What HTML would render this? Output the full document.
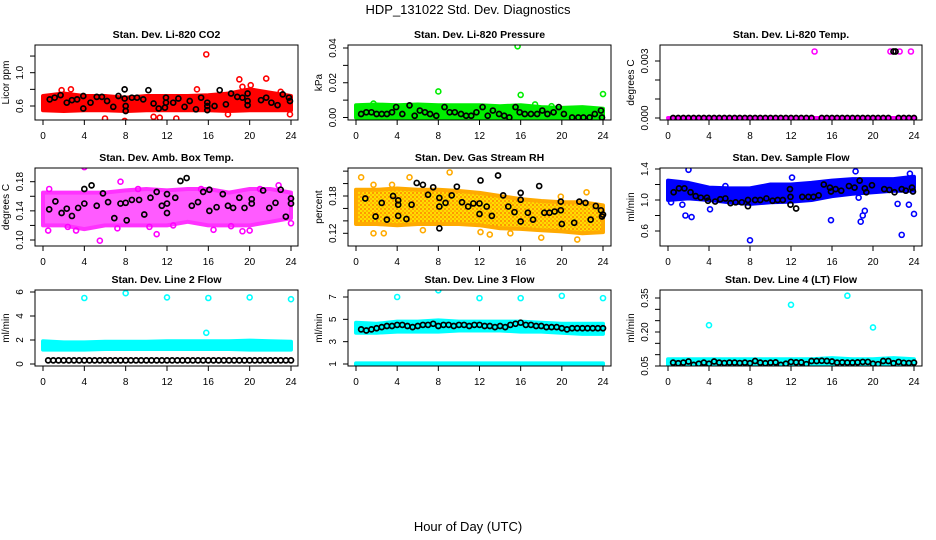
<!DOCTYPE html>
<html><head><meta charset="utf-8"><style>
html,body{margin:0;padding:0;background:#fff;}
svg{display:block;font-family:"Liberation Sans",Arial,sans-serif;}
</style></head><body>
<svg id="chart" width="936" height="540" viewBox="0 0 936 540" xmlns="http://www.w3.org/2000/svg">
<defs>
<pattern id="rhPat" width="4" height="4" patternUnits="userSpaceOnUse">
<rect width="4" height="4" fill="#ffdd00"/>
<circle cx="1" cy="1" r="0.9" fill="#ff6a00"/>
<circle cx="3" cy="3" r="0.9" fill="#ff9a00"/>
</pattern>
</defs>
<text x="468" y="14" text-anchor="middle" font-size="13">HDP_131022  Std. Dev. Diagnostics</text>
<text x="468" y="531" text-anchor="middle" font-size="13">Hour of Day (UTC)</text>
</svg>
<script>
// ---------- shared data ----------
const xTicks = [0,4,8,12,16,20,24];
const bandHours = [0,2,4,6,8,10,12,14,16,18,20,22,24];
const halfHours = [0.5,1,1.5,2,2.5,3,3.5,4,4.5,5,5.5,6,6.5,7,7.5,8,8.5,9,9.5,10,10.5,11,11.5,12,12.5,13,13.5,14,14.5,15,15.5,16,16.5,17,17.5,18,18.5,19,19.5,20,20.5,21,21.5,22,22.5,23,23.5,24];

// P1 CO2
const co2BandLo = [0.55,0.54,0.55,0.55,0.54,0.55,0.55,0.55,0.55,0.54,0.55,0.55,0.55];
const co2BandHi = [0.72,0.75,0.72,0.72,0.70,0.72,0.72,0.72,0.73,0.75,0.80,0.76,0.72];
const co2OutH = [15.8,19,21.6,1.8,2.7,7.9,6,12.9,11.3,19.3,20.1,23.9,14.9,23,10.7,17.9];
const co2OutV = [1.22,0.92,0.93,0.79,0.80,0.42,0.45,0.45,0.46,0.83,0.85,0.50,0.80,0.77,0.47,0.50];
const co2BlkH = [0.65,1.13,1.7,2.3,2.8,3.3,3.9,3.9,4.6,5.2,5.7,6.2,6.8,7.3,7.9,7.9,8,8,8.6,9.1,9.7,10.2,10.7,11.2,11.8,11.9,11.9,12.6,13.1,13.7,14.2,14.8,15.3,15.9,15.9,15.9,16.6,17.1,17.7,18.2,18.8,19.3,19.8,19.8,19.8,21.1,21.6,22.1,22.7,23.2,23.8,23.9];
const co2BlkV = [0.68,0.70,0.73,0.64,0.67,0.68,0.72,0.57,0.64,0.71,0.71,0.66,0.59,0.72,0.80,0.69,0.54,0.60,0.70,0.70,0.68,0.79,0.63,0.57,0.58,0.70,0.64,0.64,0.69,0.59,0.66,0.56,0.70,0.64,0.55,0.60,0.60,0.79,0.62,0.75,0.71,0.70,0.75,0.66,0.61,0.67,0.70,0.64,0.61,0.74,0.70,0.66];

// P2 Pressure
const presBandLo = [0,0,0,0,0,0,0,0,0,0,0,0,0];
const presBandHi = [0.007,0.0075,0.007,0.0075,0.007,0.007,0.007,0.0065,0.007,0.006,0.0055,0.006,0.005];
const presOutH = [15.7,8,16,24,17.4,19,1.7];
const presOutV = [0.041,0.015,0.013,0.0135,0.0075,0.0065,0.008];
const presBlkH = [0.5,1,1.5,2,2.5,3,3.5,3.9,4.5,5.2,5.7,6.2,6.7,7.2,7.8,8.6,9.1,9.6,10.2,10.7,11.2,11.7,12.3,12.8,13.3,13.9,14.4,14.9,15.5,15.9,16.4,17,17.6,18.1,18.6,19.2,19.7,20.2,21,21.6,22.1,22.7,23.2,23.8,23.9];
const presBlkV = [0.002,0.003,0.003,0.002,0.002,0.002,0.003,0.006,0.002,0.007,0.001,0.004,0.003,0.002,0.001,0.006,0.003,0.003,0.002,0.001,0.001,0.003,0.006,0.001,0.004,0.002,0.001,0.000,0.006,0.003,0.002,0.002,0.002,0.004,0.002,0.003,0.006,0.002,0.000,0.000,0.000,0.000,0.002,0.004,0.000];

// P3 Li-820 Temp
const ltBandLo = [0,0,0,0,0,0,0,0,0,0,0,0,0];
const ltBandHi = [0,0,0,0,0,0,0,0,0,0,0,0,0];
const ltOutH = [14.3,21.3,21.7,22.6,23.7];
const ltOutV = [0.0035,0.0041,0.0035,0.0035,0.0035];
const ltBlkV = [0,0,0,0,0,0,0,0,0,0,0,0,0,0,0,0,0,0,0,0,0,0,0,0,0,0,0,0,0.0041,0,0,0,0,0,0,0,0,0,0,0,0,0,0,0.0035,0,0,0,0];

// P4 Amb box temp
const abBandLo = [0.12,0.12,0.115,0.12,0.12,0.12,0.12,0.125,0.12,0.12,0.12,0.125,0.13];
const abBandHi = [0.165,0.165,0.165,0.165,0.168,0.17,0.168,0.17,0.17,0.165,0.17,0.17,0.165];
const abOutH = [0.5,0.6,4,5.5,7.5,9.2,11,15.3,16.5,19.3,20,21,24,3.2,7.2,12.6,2.4,10.3,18.2,22.8];
const abOutV = [0.113,0.17,0.2,0.099,0.18,0.17,0.108,0.17,0.114,0.112,0.113,0.17,0.123,0.113,0.116,0.12,0.118,0.118,0.119,0.175];
const abBlkH = [0.6,1.2,1.8,2.3,2.8,3.4,4,4,4.7,5.2,5.8,6.3,6.9,7.5,8,8.1,8.6,9.3,9.8,10.4,11,11.5,12,12,12,12.8,13.3,13.9,14.4,15,15.5,16.1,16.1,16.8,17.4,17.9,18.4,19,19.5,20.2,20.2,21.3,21.9,22.5,23,23.5,24,24];
const abBlkV = [0.142,0.153,0.137,0.143,0.133,0.144,0.17,0.15,0.175,0.147,0.164,0.152,0.13,0.15,0.151,0.127,0.155,0.155,0.135,0.158,0.166,0.147,0.137,0.15,0.163,0.158,0.181,0.185,0.147,0.152,0.166,0.169,0.14,0.145,0.163,0.147,0.144,0.158,0.144,0.15,0.156,0.168,0.144,0.151,0.169,0.132,0.157,0.15];

// P5 Gas stream RH
const rhBandLo = [0.135,0.135,0.133,0.135,0.135,0.135,0.133,0.128,0.127,0.125,0.123,0.12,0.122];
const rhBandHi = [0.19,0.19,0.192,0.19,0.19,0.188,0.185,0.18,0.175,0.172,0.17,0.17,0.165];
const rhOutH = [0.5,1.7,5.2,9.1,0.3,2.7,1.7,12.1,13,15,18,21.5,19.9,22.4,6.5,3.5];
const rhOutV = [0.21,0.198,0.21,0.218,0.186,0.12,0.12,0.122,0.118,0.12,0.113,0.11,0.179,0.186,0.125,0.198];
const rhBlkH = [0.9,1.9,2.5,3,3.6,4.1,4.1,4.1,4.9,5.4,5.9,6.5,7,7.5,8.1,8.1,8.1,8.7,9.3,9.8,10.3,10.9,11.4,12.1,12,12,12.7,13.2,13.8,14.3,14.8,15.4,16,16,16,16.7,17.2,17.8,18.3,18.8,19.3,19.9,19.9,20,21.2,21.7,22.3,22.8,23.3,23.8,23.9,24];
const rhBlkV = [0.176,0.147,0.169,0.142,0.18,0.166,0.173,0.148,0.143,0.166,0.201,0.198,0.182,0.194,0.177,0.163,0.128,0.169,0.181,0.195,0.17,0.163,0.168,0.205,0.168,0.151,0.163,0.148,0.213,0.181,0.163,0.154,0.185,0.174,0.139,0.153,0.142,0.196,0.153,0.153,0.155,0.157,0.171,0.135,0.137,0.171,0.169,0.142,0.164,0.157,0.147,0.15];

// P6 Sample flow
const sfBandLo = [1.0,1.02,1.0,0.97,0.95,0.97,0.98,1.0,1.05,1.08,1.1,1.12,1.12];
const sfBandHi = [1.25,1.22,1.16,1.15,1.15,1.2,1.2,1.22,1.25,1.27,1.27,1.27,1.3];
const sfOutH = [2,8,22.8,0.3,1.4,1.7,2.3,4.1,15.9,18.8,19,19.2,22.4,23.5,24,18.3,23.6,18.6,5.6,12.1];
const sfOutV = [1.39,0.48,0.55,0.97,0.94,0.8,0.78,0.88,0.74,0.72,0.8,0.86,0.95,0.94,0.82,1.37,1.34,1.03,1.18,1.29];
const sfBlkH = [0.55,1.07,1.6,2.2,2.7,3.2,3.8,3.9,4.6,5.1,5.6,6.1,6.6,7.2,7.8,7.8,8.5,9,9.6,10.2,10.7,11.2,11.9,11.95,11.95,12.5,13.1,13.7,14.2,14.7,15.2,15.8,15.9,16.35,16.9,17.65,18.2,18.7,19.2,19.35,19.9,21.1,21.6,22.1,22.8,23.2,23.8,23.9];
const sfBlkV = [1.10,1.15,1.15,1.10,1.05,1.03,1.03,0.99,0.98,1.01,1.02,0.96,0.97,0.97,0.92,1.0,1.0,1.0,1.02,0.99,1.0,1.0,1.14,0.94,1.04,0.89,1.04,1.04,1.04,1.06,1.2,1.16,1.11,1.14,1.12,1.18,1.16,1.25,1.15,1.1,1.19,1.14,1.13,1.1,1.14,1.12,1.16,1.11];

// P7 Line 2 flow
const l2BandLo = [1.2,1.2,1.2,1.25,1.25,1.25,1.25,1.25,1.25,1.25,1.2,1.2,1.2];
const l2BandHi = [1.9,1.8,1.8,1.85,1.85,1.85,1.9,1.9,1.9,1.9,1.95,1.9,1.85];
const l2OutH = [4,8,12,16,20,24,15.8];
const l2OutV = [5.5,5.9,5.55,5.5,5.55,5.4,2.6];
const l2BlkV = [0.3,0.3,0.3,0.3,0.3,0.3,0.3,0.3,0.3,0.3,0.3,0.3,0.3,0.3,0.3,0.3,0.3,0.3,0.3,0.3,0.3,0.3,0.3,0.3,0.3,0.3,0.3,0.3,0.3,0.3,0.3,0.3,0.3,0.3,0.3,0.3,0.3,0.3,0.3,0.3,0.3,0.3,0.3,0.3,0.3,0.3,0.3,0.3];

// P8 Line 3 flow
const l3BandLo = [3.8,3.8,3.9,3.9,3.9,4.0,4.0,4.0,3.9,3.9,3.8,3.7,3.7];
const l3BandHi = [4.7,4.6,4.8,4.8,4.9,4.8,4.8,4.8,4.8,4.7,4.6,4.6,4.6];
const l3LowLo = [0.9,0.9,0.9,0.9,0.9,0.9,0.9,0.9,0.9,0.9,0.9,0.9,0.9];
const l3LowHi = [1.05,1.05,1.05,1.05,1.05,1.05,1.05,1.05,1.05,1.05,1.05,1.05,1.05];
const l3OutH = [4,8,12,16,20,24];
const l3OutV = [7.0,7.6,6.9,6.9,7.1,6.9];
const l3BlkV = [4.1,4.0,4.1,4.2,4.3,4.4,4.4,4.5,4.5,4.4,4.3,4.4,4.5,4.5,4.6,4.4,4.5,4.5,4.4,4.5,4.5,4.4,4.5,4.5,4.4,4.4,4.3,4.4,4.3,4.5,4.6,4.7,4.5,4.5,4.4,4.4,4.3,4.3,4.3,4.2,4.1,4.2,4.2,4.2,4.2,4.2,4.2,4.2];

// P9 Line 4 flow
const l4BandLo = [0.05,0.05,0.05,0.05,0.05,0.05,0.05,0.05,0.05,0.05,0.05,0.05,0.05];
const l4BandHi = [0.08,0.08,0.08,0.08,0.08,0.08,0.08,0.08,0.085,0.08,0.08,0.085,0.08];
const l4OutH = [4,12,17.5,20];
const l4OutV = [0.23,0.32,0.36,0.22];
const l4BlkV = [0.065,0.062,0.065,0.07,0.055,0.06,0.065,0.06,0.07,0.065,0.063,0.065,0.065,0.063,0.065,0.062,0.072,0.065,0.062,0.065,0.066,0.055,0.06,0.068,0.066,0.066,0.058,0.072,0.072,0.073,0.072,0.07,0.065,0.066,0.065,0.065,0.066,0.068,0.068,0.06,0.058,0.072,0.072,0.062,0.068,0.064,0.063,0.065];

// ---------- rendering ----------
const NS = "http://www.w3.org/2000/svg";
const svg = document.getElementById('chart');
function mk(tag, attrs, parent){
  const e = document.createElementNS(NS, tag);
  for (const k in attrs) e.setAttribute(k, attrs[k]);
  (parent||svg).appendChild(e);
  return e;
}

function panel(cfg){
  const g = mk('g', {});
  
  
  const [bl, bt, br, bb] = cfg.box;
  const xs = h => cfg.x0 + (cfg.x24 - cfg.x0) * h / 24;
  const ys = v => cfg.ya[1] + (v - cfg.ya[0]) * (cfg.yb[1] - cfg.ya[1]) / (cfg.yb[0] - cfg.ya[0]);
  const clip = 'clip-' + cfg.name;
  const cp = mk('clipPath', {id: clip}, g);
  mk('rect', {x: bl, y: bt, width: br - bl, height: bb - bt}, cp);
  const plot = mk('g', {'clip-path': 'url(#' + clip + ')'}, g);

  cfg.bands.forEach(b => {
    let d = '';
    bandHours.forEach((h, i) => { d += (i ? 'L' : 'M') + xs(h).toFixed(1) + ',' + ys(b.hi[i]).toFixed(1); });
    for (let i = bandHours.length - 1; i >= 0; i--) d += 'L' + xs(bandHours[i]).toFixed(1) + ',' + ys(b.lo[i]).toFixed(1);
    d += 'Z';
    const p = mk('path', {d: d, fill: cfg.fill, stroke: cfg.color, 'stroke-width': 4, 'stroke-linejoin': 'round', opacity: cfg.op || 1}, plot);
    
    
  });
  cfg.outH.forEach((h, i) => {
    const c = mk('circle', {cx: xs(h), cy: ys(cfg.outV[i]), r: 2.5, fill: 'none', stroke: cfg.color, 'stroke-width': 1.6}, plot);
    
    
  });
  cfg.blkH.forEach((h, i) => {
    const c = mk('circle', {cx: xs(h), cy: ys(cfg.blkV[i]), r: 2.5, fill: 'none', stroke: '#000', 'stroke-width': 1.7}, plot);
    
    
  });
  (cfg.extra || []).forEach(pt => {
    const c = mk('circle', {cx: xs(pt[0]), cy: ys(pt[1]), r: 2.5, fill: 'none', stroke: '#000', 'stroke-width': 1.7}, plot);
    
    
  });

  const box = mk('rect', {x: bl, y: bt, width: br - bl, height: bb - bt, fill: 'none', stroke: '#000', 'stroke-width': 1}, g);
  
  

  const xa = mk('g', {}, g);
  
  
  xTicks.forEach(t => {
    mk('line', {x1: xs(t), x2: xs(t), y1: bb, y2: bb + 5, stroke: '#000'}, xa);
    const tx = mk('text', {x: xs(t), y: bb + 19, 'text-anchor': 'middle', 'font-size': 10}, xa);
    tx.textContent = t;
    
    
  });
  const ya = mk('g', {}, g);
  
  
  cfg.yTicks.forEach((t, i) => {
    const y = ys(t);
    mk('line', {x1: bl - 5, x2: bl, y1: y, y2: y, stroke: '#000'}, ya);
    if (cfg.yLabels[i]) {
      const lx = bl - 12;
      const tx = mk('text', {x: lx, y: y, 'text-anchor': 'middle', 'font-size': 10, transform: 'rotate(-90 ' + lx + ' ' + y + ')'}, ya);
      tx.textContent = cfg.yLabels[i];
      
      
    }
  });
  const cy = (bt + bb) / 2, lx = bl - 26;
  const yt = mk('text', {x: lx, y: cy, 'text-anchor': 'middle', 'font-size': 10, transform: 'rotate(-90 ' + lx + ' ' + cy + ')'}, g);
  yt.textContent = cfg.ylab;
  
  
  const tt = mk('text', {x: (bl + br) / 2, y: bt - 7, 'text-anchor': 'middle', 'font-size': 10.5, 'font-weight': 'bold'}, g);
  tt.textContent = cfg.title;
  
  
}

const C1 = [35, 298, 43, 291], C2 = [348, 611, 356, 603], C3 = [660, 922, 668, 914];
const R1 = [45, 120], R2 = [168, 246], R3 = [290, 366];

panel({name:'panel-co2', title:'Stan. Dev. Li-820 CO2', ylab:'Licor ppm', box:[C1[0],R1[0],C1[1],R1[1]], x0:C1[2], x24:C1[3],
  ya:[0.6,106], yb:[1.0,72.7], yTicks:[0.6,0.8,1.0,1.2], yLabels:['0.6','','1.0',''], color:'#ff0000', fill:'#ff0000',
  bands:[{lo:co2BandLo, hi:co2BandHi}], outH:co2OutH, outV:co2OutV, blkH:co2BlkH, blkV:co2BlkV});
panel({name:'panel-pressure', title:'Stan. Dev. Li-820 Pressure', ylab:'kPa', box:[C2[0],R1[0],C2[1],R1[1]], x0:C2[2], x24:C2[3],
  ya:[0,117.5], yb:[0.04,48], yTicks:[0,0.01,0.02,0.03,0.04], yLabels:['0.00','','0.02','','0.04'], color:'#00ee00', fill:'#00ee00',
  bands:[{lo:presBandLo, hi:presBandHi}], outH:presOutH, outV:presOutV, blkH:presBlkH, blkV:presBlkV});
panel({name:'panel-li820-temp', title:'Stan. Dev. Li-820 Temp.', ylab:'degrees C', box:[C3[0],R1[0],C3[1],R1[1]], x0:C3[2], x24:C3[3],
  ya:[0,118], yb:[0.003,61], yTicks:[0,0.001,0.002,0.003], yLabels:['0.000','','','0.003'], color:'#ff00ff', fill:'#ff00ff',
  bands:[{lo:ltBandLo, hi:ltBandHi}], outH:ltOutH, outV:ltOutV, blkH:halfHours, blkV:ltBlkV, extra:[[22.2,0.0035]]});
panel({name:'panel-amb-box-temp', title:'Stan. Dev. Amb. Box Temp.', ylab:'degrees C', box:[C1[0],R2[0],C1[1],R2[1]], x0:C1[2], x24:C1[3],
  ya:[0.10,240], yb:[0.18,181.7], yTicks:[0.10,0.12,0.14,0.16,0.18], yLabels:['0.10','','0.14','','0.18'], color:'#ff00ff', fill:'#ff33ff', op:0.8,
  bands:[{lo:abBandLo, hi:abBandHi}], outH:abOutH, outV:abOutV, blkH:abBlkH, blkV:abBlkV});
panel({name:'panel-gas-rh', title:'Stan. Dev. Gas Stream RH', ylab:'percent', box:[C2[0],R2[0],C2[1],R2[1]], x0:C2[2], x24:C2[3],
  ya:[0.12,233.3], yb:[0.18,196], yTicks:[0.12,0.14,0.16,0.18,0.20,0.22], yLabels:['0.12','','','0.18','',''], color:'#ffaa00', fill:'url(#rhPat)',
  bands:[{lo:rhBandLo, hi:rhBandHi}], outH:rhOutH, outV:rhOutV, blkH:rhBlkH, blkV:rhBlkV});
panel({name:'panel-sample-flow', title:'Stan. Dev. Sample Flow', ylab:'ml/min', box:[C3[0],R2[0],C3[1],R2[1]], x0:C3[2], x24:C3[3],
  ya:[1.0,200], yb:[1.4,169], yTicks:[0.6,0.8,1.0,1.2,1.4], yLabels:['0.6','','1.0','','1.4'], color:'#0000ff', fill:'#0000ff',
  bands:[{lo:sfBandLo, hi:sfBandHi}], outH:sfOutH, outV:sfOutV, blkH:sfBlkH, blkV:sfBlkV});
panel({name:'panel-line2-flow', title:'Stan. Dev. Line 2 Flow', ylab:'ml/min', box:[C1[0],R3[0],C1[1],R3[1]], x0:C1[2], x24:C1[3],
  ya:[0,364], yb:[6,292], yTicks:[0,2,4,6], yLabels:['0','2','4','6'], color:'#00ffff', fill:'#00ffff',
  bands:[{lo:l2BandLo, hi:l2BandHi}], outH:l2OutH, outV:l2OutV, blkH:halfHours, blkV:l2BlkV});
panel({name:'panel-line3-flow', title:'Stan. Dev. Line 3 Flow', ylab:'ml/min', box:[C2[0],R3[0],C2[1],R3[1]], x0:C2[2], x24:C2[3],
  ya:[1,364], yb:[7,297], yTicks:[1,3,5,7], yLabels:['1','3','5','7'], color:'#00ffff', fill:'#00ffff',
  bands:[{lo:l3BandLo, hi:l3BandHi},{lo:l3LowLo, hi:l3LowHi}], outH:l3OutH, outV:l3OutV, blkH:halfHours, blkV:l3BlkV});
panel({name:'panel-line4-flow', title:'Stan. Dev. Line 4 (LT) Flow', ylab:'ml/min', box:[C3[0],R3[0],C3[1],R3[1]], x0:C3[2], x24:C3[3],
  ya:[0.05,366], yb:[0.35,298], yTicks:[0.05,0.10,0.15,0.20,0.25,0.30,0.35], yLabels:['0.05','','','0.20','','','0.35'], color:'#00ffff', fill:'#00ffff',
  bands:[{lo:l4BandLo, hi:l4BandHi}], outH:l4OutH, outV:l4OutV, blkH:halfHours, blkV:l4BlkV});
</script>
</body></html>
